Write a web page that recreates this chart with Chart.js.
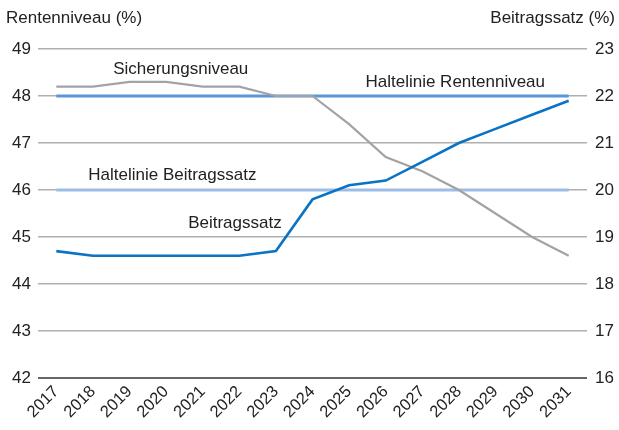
<!DOCTYPE html>
<html>
<head>
<meta charset="utf-8">
<script src="https://cdn.jsdelivr.net/npm/chart.js@4"></script>
<style>
  html, body { margin: 0; padding: 0; background: #fff; }
  #wrap { width: 619px; height: 430px; }
</style>
</head>
<body>
<div id="wrap"><canvas id="chart" width="619" height="430"></canvas></div>
<script>
/* ===== DATA ===== */
const years = ['2017','2018','2019','2020','2021','2022','2023','2024','2025','2026','2027','2028','2029','2030','2031'];
const sicherungsniveau = [48.2, 48.2, 48.3, 48.3, 48.2, 48.2, 48.0, 48.0, 47.4, 46.7, 46.4, 46.0, 45.5, 45.0, 44.6];
const beitragssatz     = [18.7, 18.6, 18.6, 18.6, 18.6, 18.6, 18.7, 19.8, 20.1, 20.2, 20.6, 21.0, 21.3, 21.6, 21.9];
const halteRenten      = years.map(() => 48);
const halteBeitrag     = years.map(() => 20);
const leftTicks  = [42, 43, 44, 45, 46, 47, 48, 49];
const rightTicks = [16, 17, 18, 19, 20, 21, 22, 23];

/* ===== STYLE ===== */
const FONT = '"Liberation Sans", Arial, sans-serif';
const TXT = '#222';
const GRID = '#b0b0b0';

// in-chart text labels: [text, x index, value, axis]
const seriesLabels = [
  ['Sicherungsniveau', 3.4, 48.57, 'y'],
  ['Haltelinie Rentenniveau', 10.9, 48.3, 'y'],
  ['Haltelinie Beitragssatz', 3.17, 20.32, 'y2'],
  ['Beitragssatz', 4.88, 19.3, 'y2'],
];

const textPlugin = {
  id: 'texts',
  afterDraw(chart) {
    const { ctx, scales } = chart;
    ctx.save();
    ctx.fillStyle = TXT;
    ctx.font = '17px ' + FONT;
    ctx.textBaseline = 'middle';
    ctx.textAlign = 'center';
    seriesLabels.forEach(([t, xi, v, ax]) => {
      ctx.fillText(t, scales.x.getPixelForValue(xi), scales[ax].getPixelForValue(v));
    });
    // axis titles
    ctx.textAlign = 'left';
    ctx.fillText('Rentenniveau (%)', 6, 18);
    ctx.textAlign = 'right';
    ctx.fillText('Beitragssatz (%)', 615, 18);
    ctx.restore();
  }
};

const ds = (label, data, color, width, axis, order) => ({
  label, data, borderColor: color, backgroundColor: color, borderWidth: width,
  yAxisID: axis, pointRadius: 0, tension: 0, fill: false, order
});

new Chart(document.getElementById('chart'), {
  type: 'line',
  data: {
    labels: years,
    datasets: [
      ds('Haltelinie Beitragssatz', halteBeitrag, '#9bbde6', 3, 'y2', 4),
      ds('Haltelinie Rentenniveau', halteRenten, '#5a97d6', 3, 'y', 3),
      ds('Sicherungsniveau', sicherungsniveau, '#a3a3a3', 2.2, 'y', 2),
      ds('Beitragssatz', beitragssatz, '#0a73c4', 2.6, 'y2', 1),
    ]
  },
  options: {
    responsive: false,
    animation: false,
    layout: { padding: { top: 49, left: 0, right: 0, bottom: 0 } },
    plugins: { legend: { display: false }, tooltip: { enabled: false } },
    scales: {
      x: {
        offset: true,
        grid: { display: false, drawTicks: false },
        border: { display: false },
        ticks: { color: TXT, font: { family: FONT, size: 16.5 }, maxRotation: 45, minRotation: 45, padding: 4, autoSkip: false },
        afterFit: s => { s.height = 52; }
      },
      y: {
        position: 'left', min: 42, max: 49,
        afterBuildTicks: s => { s.ticks = leftTicks.map(v => ({ value: v })); },
        grid: {
          color: c => c.tick && c.tick.value === 42 ? '#666' : GRID,
          lineWidth: c => c.tick && c.tick.value === 42 ? 2 : 1.4,
          drawTicks: false
        },
        border: { display: false },
        ticks: { color: TXT, font: { family: FONT, size: 17 }, padding: 7 },
        afterFit: s => { s.width = 38; }
      },
      y2: {
        position: 'right', min: 16, max: 23,
        afterBuildTicks: s => { s.ticks = rightTicks.map(v => ({ value: v })); },
        grid: { display: false, drawTicks: false },
        border: { display: false },
        ticks: { color: TXT, font: { family: FONT, size: 17 }, padding: 8 },
        afterFit: s => { s.width = 32; }
      }
    }
  },
  plugins: [textPlugin]
});
</script>
</body>
</html>
